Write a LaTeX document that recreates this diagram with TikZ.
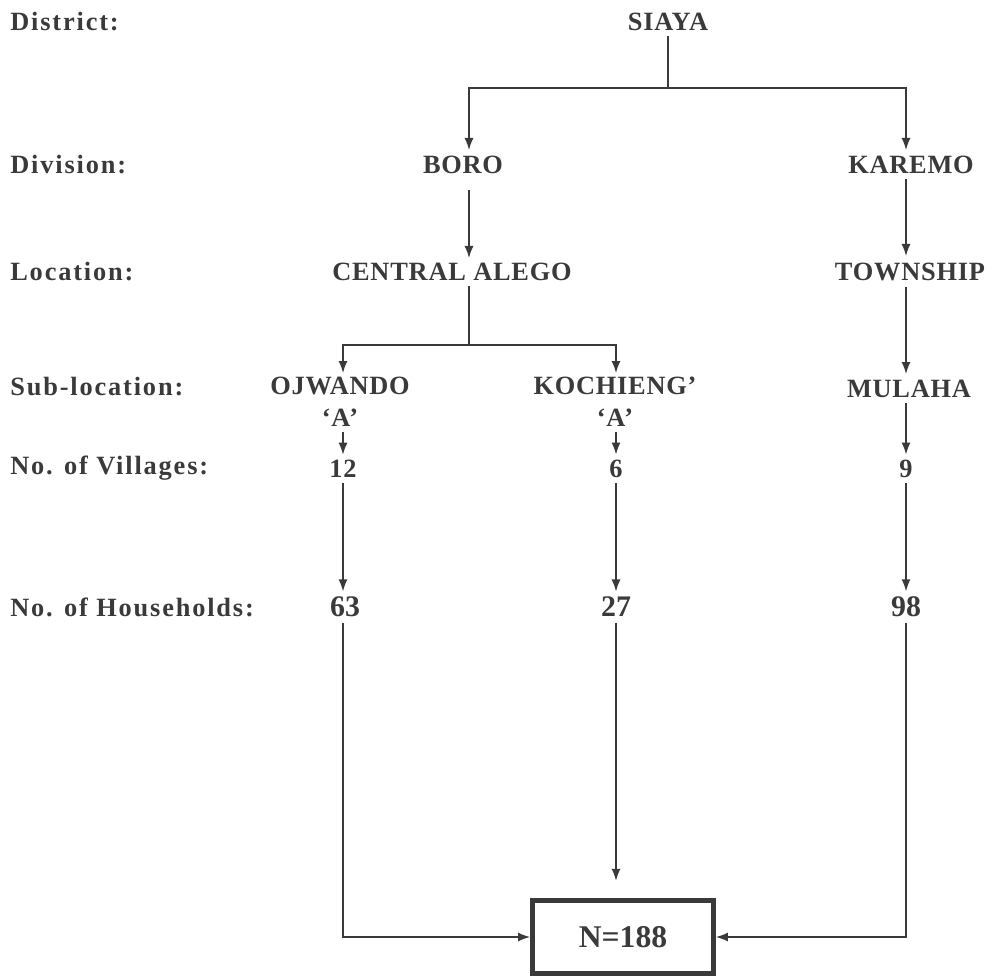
\documentclass[tikz,border=0pt]{standalone}
\usepackage{fontspec}
\setmainfont{Liberation Serif}
\usepackage{tikz}
\usetikzlibrary{arrows.meta,positioning}
\definecolor{inkgray}{HTML}{3A3A3A}
\tikzset{
  levellabel/.style={
    anchor=west,
    font=\bfseries\fontsize{15}{18}\selectfont\addfontfeatures{LetterSpace=7},
    text=inkgray,
    inner sep=0pt
  },
  unitnode/.style={
    font=\bfseries\fontsize{15}{18}\selectfont\addfontfeatures{LetterSpace=3},
    text=inkgray,
    align=center,
    inner sep=3pt
  },
  countnode/.style={
    unitnode,
    font=\bfseries\fontsize{17}{19}\selectfont
  },
  totalbox/.style={
    draw=inkgray,
    line width=2.8pt,
    minimum width=3.62cm,
    minimum height=1.45cm,
    font=\bfseries\fontsize{18}{20}\selectfont,
    text=inkgray
  },
  flowline/.style={
    line width=0.8pt,
    draw=inkgray
  },
  flowarrow/.style={
    -{Latex[length=2.4mm,width=1.8mm]},
    flowline
  }
}

\begin{document}
\begin{tikzpicture}[x=0.02cm, y=-0.02cm]
    \useasboundingbox (0,0) rectangle (997,979);

    % level labels
    \node[levellabel] (lbldistrict) at (10,22) {District:};
    \node[levellabel] (lbldivision) at (10,165) {Division:};
    \node[levellabel] (lbllocation) at (10,272) {Location:};
    \node[levellabel] (lblsubloc) at (10,387) {Sub-location:};
    \node[levellabel] (lblvillages) at (10,468) {No. of Villages:};
    \node[levellabel] (lblhouses) at (10,607) {No. of Households:};

    % units
    \node[unitnode] (siaya) at (668,22) {SIAYA};
    \node[unitnode] (boro) at (463,165) {BORO};
    \node[unitnode] (karemo) at (911,165) {KAREMO};
    \node[unitnode] (central) at (452,272) {CENTRAL ALEGO};
    \node[unitnode] (township) at (910,272) {TOWNSHIP};
    \node[unitnode] (ojwando) at (340,402) {OJWANDO\\`A'};
    \node[unitnode] (kochieng) at (615,402) {KOCHIENG'\\`A'};
    \node[unitnode] (mulaha) at (909,389) {MULAHA};
    \node[unitnode] (vojw) at (343,469) {12};
    \node[unitnode] (vkoc) at (616,469) {6};
    \node[unitnode] (vmul) at (906,469) {9};
    \node[countnode] (hojw) at (345,607) {63};
    \node[countnode] (hkoc) at (616,607) {27};
    \node[countnode] (hmul) at (906,607) {98};
    \node[totalbox] (total) at (623,937) {N=188};

    \coordinate (forkdiv) at (668,88);
    \coordinate (forksub) at (469,345);

    \draw[flowline] (siaya) -- (forkdiv);
    \draw[flowarrow] (forkdiv) -| (469,150);
    \draw[flowarrow] (forkdiv) -| (906,150);
    \draw[flowarrow] (469,190) -- (469,258);
    \draw[flowarrow] (karemo.south -| 906,0) -- (906,256);
    \draw[flowline] (central.south -| forksub) -- (forksub);
    \draw[flowarrow] (forksub) -| (343,373);
    \draw[flowarrow] (forksub) -| (616,373);
    \draw[flowarrow] (township.south -| 906,0) -- (906,374);
    \draw[flowarrow] (ojwando.south -| vojw) -- (vojw);
    \draw[flowarrow] (kochieng.south -| vkoc) -- (vkoc);
    \draw[flowarrow] (mulaha.south -| vmul) -- (vmul);
    \draw[flowarrow] (vojw) -- (vojw |- hojw.north);
    \draw[flowarrow] (vkoc) -- (hkoc);
    \draw[flowarrow] (vmul) -- (hmul);
    \draw[flowarrow] (hojw.south -| vojw) |- (total.west);
    \draw[flowarrow, shorten >=0.35cm] (hkoc) -- (hkoc |- total.north);
    \draw[flowarrow] (hmul) |- (total.east);
\end{tikzpicture}
\end{document}
